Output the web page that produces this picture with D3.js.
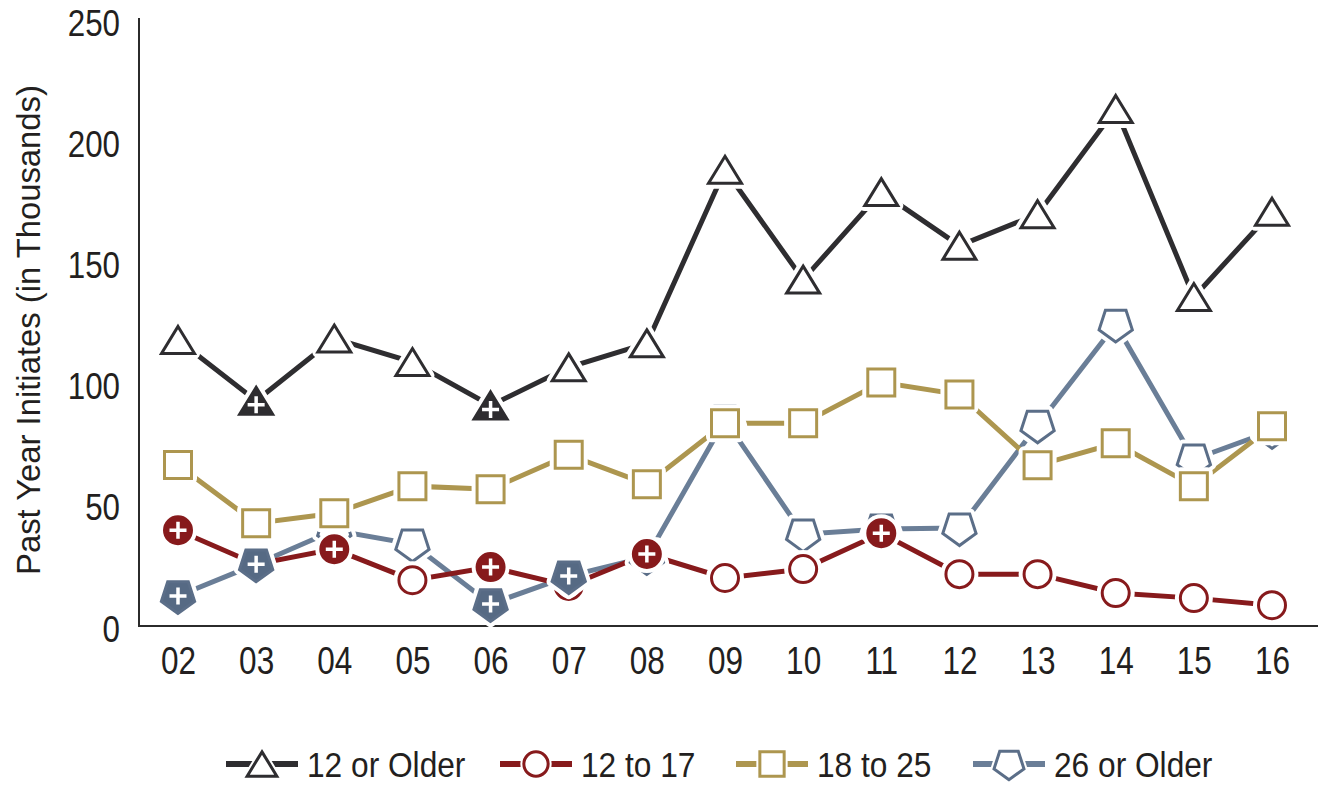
<!DOCTYPE html>
<html>
<head>
<meta charset="utf-8">
<script src="https://cdn.jsdelivr.net/npm/d3@7"></script>
<style>
  html, body { margin: 0; padding: 0; background: #fff; }
  svg { display: block; }
  text { font-family: 'Liberation Sans', Arial, sans-serif; fill: #231f20; }
</style>
</head>
<body>
<svg id="chart" width="1326" height="790"></svg>
<script>
// ---- data ----
const years = ["02","03","04","05","06","07","08","09","10","11","12","13","14","15","16"];
const yTicks = [0, 50, 100, 150, 200, 250];
const seriesNames = ["12 or Older", "12 to 17", "18 to 25", "26 or Older"];

const age12Older = [118.0, 92.9, 118.6, 108.9, 91.0, 106.7, 116.6, 188.2, 142.9, 179.0, 156.9, 169.9, 213.3, 135.7, 170.9];
const age12to17  = [39.5, 25.5, 31.7, 18.9, 24.3, 16.5, 29.7, 19.8, 23.5, 38.3, 21.4, 21.4, 13.6, 11.5, 8.6];
const age18to25  = [66.4, 42.4, 46.5, 57.7, 56.4, 70.6, 58.5, 83.6, 83.6, 100.5, 95.5, 66.3, 75.4, 57.7, 82.4];
const age26Older = [12.4, 25.5, 39.5, 33.8, 9.1, 20.6, 28.5, 85.0, 37.9, 40.0, 40.4, 82.8, 124.4, 68.8, 80.5];

// significant difference from 2016 (filled markers with +)
const sig12Older = [0,1,0,0,1,0,0,0,0,0,0,0,0,0,0];
const sig12to17  = [1,0,1,0,1,0,1,0,0,1,0,0,0,0,0];
const sig18to25  = [0,0,0,0,0,0,0,0,0,0,0,0,0,0,0];
const sig26Older = [1,1,0,0,1,1,0,0,0,0,0,0,0,0,0];

// ---- styles ----
const series = [
  { name: seriesNames[0], values: age12Older, sig: sig12Older, shape: "triangle", line: "#2e2d30", mark: "#2e2d30", fillSig: "#2e2d30" },
  { name: seriesNames[1], values: age12to17,  sig: sig12to17,  shape: "circle",   line: "#871a1c", mark: "#871a1c", fillSig: "#871a1c" },
  { name: seriesNames[2], values: age18to25,  sig: sig18to25,  shape: "square",   line: "#ad964f", mark: "#ad964f", fillSig: "#ad964f" },
  { name: seriesNames[3], values: age26Older, sig: sig26Older, shape: "pentagon", line: "#6a7e97", mark: "#5b6e88", fillSig: "#566a84" }
];
const drawOrder = [3, 2, 1, 0];
const SXY = 0.87; // horizontal condensing of y tick digits
const SX = 0.83;  // x tick digits
const SXL = 0.88; // legend condensing

function shapePath(shape, k) {
  k = k || 1;
  if (shape === "triangle") {
    const w = 16.5 * k, h = 13.5 * k;
    return `M0,${-h}L${w},${h}L${-w},${h}Z`;
  }
  if (shape === "square") {
    const s = 13.5 * k;
    return `M${-s},${-s}H${s}V${s}H${-s}Z`;
  }
  if (shape === "circle") {
    const r = 13.5 * k;
    return `M${r},0A${r},${r} 0 1,1 ${-r},0A${r},${r} 0 1,1 ${r},0Z`;
  }
  if (shape === "pentagon") {
    const R = 17.5 * k;
    const pts = d3.range(5).map(i => {
      const a = (90 + 72 * i) * Math.PI / 180;
      return [R * Math.cos(a), R * Math.sin(a)];
    });
    return "M" + pts.map(p => p[0].toFixed(2) + "," + p[1].toFixed(2)).join("L") + "Z";
  }
}

const svg = d3.select("#chart");
const x = d3.scalePoint().domain(years).range([178, 1272]);
const y = d3.scaleLinear().domain([0, 250]).range([626, 20]);

// axes
const yAxis = svg.append("g").attr("transform", "translate(139,0)")
  .call(d3.axisLeft(y).tickValues(yTicks).tickSize(0).tickPadding(19));
yAxis.select(".domain").attr("stroke", "#2b2b2b").attr("stroke-width", 2).attr("d", "M0,18V626");
yAxis.selectAll(".tick text").each(function () {
  const t = d3.select(this);
  const xv = +t.attr("x");
  t.attr("x", xv / SXY).attr("transform", `scale(${SXY},1)`);
}).attr("font-size", 36).attr("dy", "0.42em")
  .style("font-family", "'Liberation Sans', Arial, sans-serif").attr("fill", "#231f20");

const xAxis = svg.append("g").attr("transform", "translate(0,626)")
  .call(d3.axisBottom(x).tickSize(0).tickPadding(21));
xAxis.select(".domain").attr("stroke", "#2b2b2b").attr("stroke-width", 2).attr("d", "M138,0H1318");
xAxis.selectAll(".tick text").attr("font-size", 38).attr("transform", `scale(${SX},1)`)
  .style("font-family", "'Liberation Sans', Arial, sans-serif").attr("fill", "#231f20");

// y title
const title = svg.append("text")
  .attr("transform", "translate(40,330) rotate(-90)")
  .attr("text-anchor", "middle")
  .attr("font-size", 33)
  .text("Past Year Initiates (in Thousands)");
const tl = title.node().getComputedTextLength();
if (tl > 0) title.attr("transform", `translate(40,330) rotate(-90) scale(${490 / tl},1)`);

// lines
const lineGen = d3.line().x((d, i) => x(years[i])).y(d => y(d));
drawOrder.forEach(si => {
  const s = series[si];
  svg.append("path").datum(s.values)
    .attr("fill", "none").attr("stroke", s.line).attr("stroke-width", 5)
    .attr("stroke-linejoin", "miter")
    .attr("d", lineGen);
});

function drawMarker(g, s, filled) {
  const p = shapePath(s.shape);
  g.append("path").attr("d", p).attr("fill", "#fff").attr("stroke", "#fff").attr("stroke-width", 11).attr("stroke-linejoin", "round");
  g.append("path").attr("d", p)
    .attr("fill", filled ? s.fillSig : "#fff")
    .attr("stroke", s.mark).attr("stroke-width", 3).attr("stroke-linejoin", "miter");
  if (filled) {
    const dy = s.shape === "triangle" ? 4 : 0;
    const L = 8.5;
    g.append("path").attr("d", `M${-L},${dy}H${L}M0,${dy - L}V${dy + L}`)
      .attr("stroke", "#fff").attr("stroke-width", 3.5).attr("fill", "none");
  }
}

// open markers first, then filled ones on top
[false, true].forEach(filledPass => {
  drawOrder.forEach(si => {
    const s = series[si];
    s.values.forEach((v, i) => {
      const filled = !!s.sig[i];
      if (filled !== filledPass) return;
      const g = svg.append("g").attr("transform", `translate(${x(years[i])},${y(v)})`);
      drawMarker(g, s, filled);
    });
  });
});

// legend
const legendCenters = [262, 536, 772, 1009];
const legendY = 764;
series.forEach((s, i) => {
  const cx = legendCenters[i];
  const g = svg.append("g").attr("transform", `translate(${cx},${legendY})`);
  g.append("line").attr("x1", -36).attr("x2", 36).attr("stroke", s.line).attr("stroke-width", 6);
  const k = 0.9;
  const p = shapePath(s.shape, k);
  g.append("path").attr("d", p).attr("fill", "#fff").attr("stroke", "#fff").attr("stroke-width", 7);
  g.append("path").attr("d", p).attr("fill", "#fff").attr("stroke", s.mark).attr("stroke-width", 3);
  svg.append("text").attr("transform", `translate(${cx + 45},${legendY}) scale(${SXL},1)`)
    .attr("dy", "0.36em")
    .attr("font-size", 36).text(s.name);
});
</script>
</body>
</html>
